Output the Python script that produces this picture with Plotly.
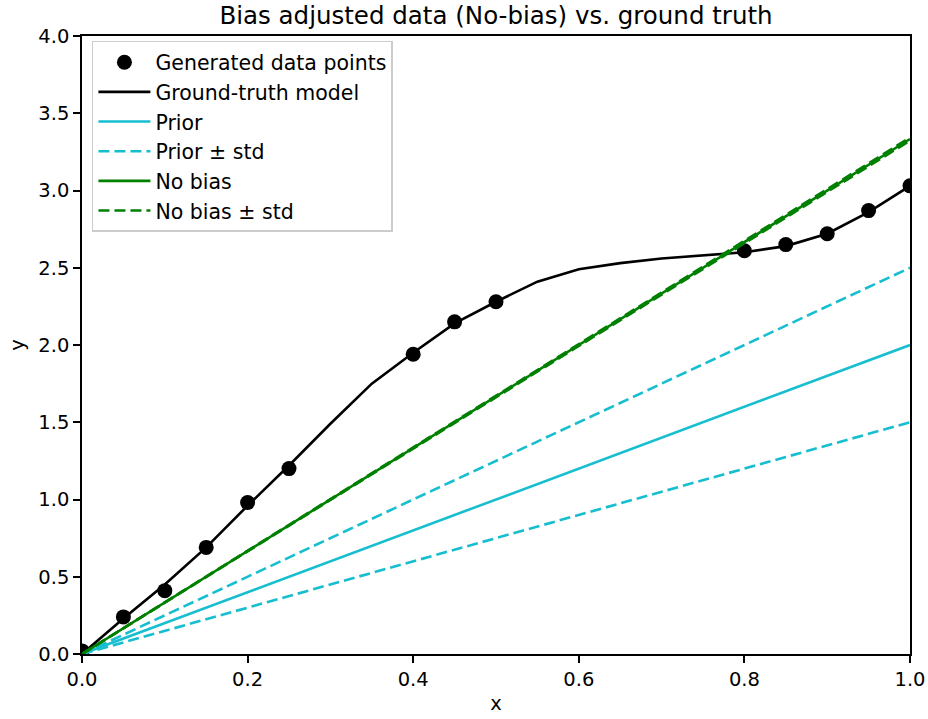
import numpy as np
import plotly.graph_objects as go

# Data
x_pts = [0.0, 0.05, 0.10, 0.15, 0.20, 0.25, 0.40, 0.45, 0.50, 0.80, 0.85, 0.90, 0.95, 1.00]
y_pts = [0.02, 0.24, 0.41, 0.69, 0.98, 1.20, 1.94, 2.15, 2.28, 2.61, 2.65, 2.72, 2.87, 3.03]

x_gt = [0.0, 0.05, 0.10, 0.15, 0.20, 0.25, 0.30, 0.35, 0.40, 0.45, 0.50,
        0.55, 0.60, 0.65, 0.70, 0.75, 0.80, 0.85, 0.90, 0.95, 1.00]
y_gt = [0.0, 0.23, 0.45, 0.69, 0.96, 1.22, 1.49, 1.75, 1.95, 2.14, 2.28,
        2.41, 2.49, 2.53, 2.56, 2.58, 2.60, 2.64, 2.72, 2.86, 3.03]

x_line = [0.0, 1.0]
prior_mean = [0.0, 2.0]
prior_upper = [0.0, 2.5]
prior_lower = [0.0, 1.5]
nobias_mean = [0.0, 3.333]
nobias_upper = [0.0, 3.343]
nobias_lower = [0.0, 3.323]

x_ticks = [0.0, 0.2, 0.4, 0.6, 0.8, 1.0]
y_ticks = [0.0, 0.5, 1.0, 1.5, 2.0, 2.5, 3.0, 3.5, 4.0]

CYAN = "#17becf"
GREEN = "#008000"
DASH = "11px,5px"
LW = 2.6

fig = go.Figure()
fig.add_trace(go.Scatter(x=x_pts, y=y_pts, mode="markers", name="Generated data points",
                         marker=dict(color="black", size=15), cliponaxis=True))
fig.add_trace(go.Scatter(x=x_gt, y=y_gt, mode="lines", name="Ground-truth model",
                         line=dict(color="black", width=LW)))
fig.add_trace(go.Scatter(x=x_line, y=prior_mean, mode="lines", name="Prior",
                         line=dict(color=CYAN, width=LW)))
fig.add_trace(go.Scatter(x=x_line, y=prior_upper, mode="lines", name="Prior ± std",
                         line=dict(color=CYAN, width=LW, dash=DASH), legendgroup="ps"))
fig.add_trace(go.Scatter(x=x_line, y=prior_lower, mode="lines", name="Prior ± std",
                         line=dict(color=CYAN, width=LW, dash=DASH), legendgroup="ps", showlegend=False))
fig.add_trace(go.Scatter(x=x_line, y=nobias_mean, mode="lines", name="No bias",
                         line=dict(color=GREEN, width=LW)))
fig.add_trace(go.Scatter(x=x_line, y=nobias_upper, mode="lines", name="No bias ± std",
                         line=dict(color=GREEN, width=LW, dash=DASH), legendgroup="ns"))
fig.add_trace(go.Scatter(x=x_line, y=nobias_lower, mode="lines", name="No bias ± std",
                         line=dict(color=GREEN, width=LW, dash=DASH), legendgroup="ns", showlegend=False))

axis_common = dict(showgrid=False, zeroline=False, showline=True, linecolor="black", linewidth=1.6,
                   mirror=True, ticks="outside", ticklen=7, tickwidth=1.6, tickcolor="black",
                   tickfont=dict(size=19.5, color="black"), automargin=False)

fig.update_layout(
    width=928, height=719,
    margin=dict(l=82, r=18, t=36, b=65),
    paper_bgcolor="white", plot_bgcolor="white",
    font=dict(family="DejaVu Sans", color="black", size=19),
    title=dict(text="Bias adjusted data (No-bias) vs. ground truth", x=0.5, xanchor="center",
               xref="paper", y=0.978, yanchor="middle", font=dict(size=24.5)),
    xaxis=dict(range=[0, 1], tickvals=x_ticks, tickformat=".1f",
               title=dict(text="x", font=dict(size=19.5), standoff=6), **axis_common),
    yaxis=dict(range=[0, 4], tickvals=y_ticks, tickformat=".1f",
               title=dict(text="y", font=dict(size=19.5), standoff=8), **axis_common),
    legend=dict(x=0.012, y=0.992, xanchor="left", yanchor="top",
                bgcolor="rgba(255,255,255,0.85)", bordercolor="#cccccc", borderwidth=1.5,
                font=dict(size=20.5), tracegroupgap=0, itemwidth=52),
    showlegend=True,
)

fig.write_html("out.html")
